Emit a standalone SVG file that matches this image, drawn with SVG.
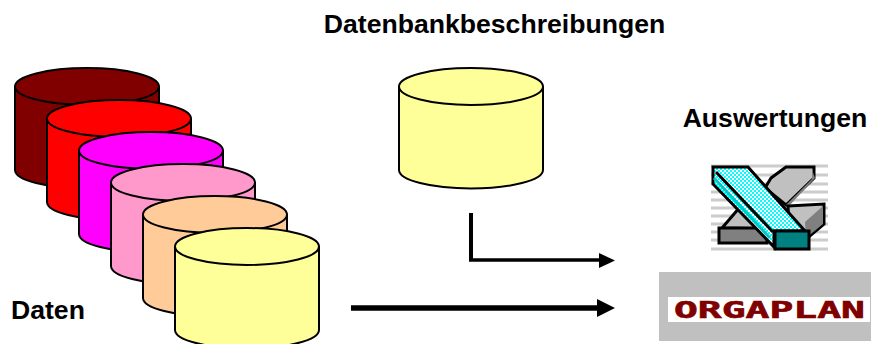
<svg xmlns="http://www.w3.org/2000/svg" width="871" height="344" viewBox="0 0 871 344">
<style>
.t{font-family:"Liberation Sans",Arial,sans-serif;font-weight:bold;font-size:26.600px;fill:#000}
.b{stroke:#000;stroke-width:2}
.o{stroke:#000;stroke-width:3;stroke-linejoin:miter}
</style>
<defs>
<path id="cyl" d="M0 18.500V102A72 18.500 0 0 0 144 102V18.500A72 18.500 0 0 0 0 18.500Z"/>
<path id="rim" d="M0 18.500A72 18.500 0 0 0 144 18.500"/>
<pattern id="chk" width="4" height="4" patternUnits="userSpaceOnUse"><rect width="4" height="4" fill="#fff"/><rect width="2" height="2" fill="#00ffff"/><rect x="2" y="2" width="2" height="2" fill="#00ffff"/></pattern>
</defs>
<rect width="871" height="344" fill="#fff"/>
<text class="t" x="494.500" y="33" text-anchor="middle">Datenbankbeschreibungen</text>
<text class="t" x="775" y="127" text-anchor="middle">Auswertungen</text>
<text class="t" x="11" y="319">Daten</text>
<g id="db1" transform="translate(15 68)"><use href="#cyl" class="b" fill="#800000"/><use href="#rim" class="b" fill="none"/></g>
<g id="db2" transform="translate(47 100)"><use href="#cyl" class="b" fill="#f00"/><use href="#rim" class="b" fill="none"/></g>
<g id="db3" transform="translate(79 132)"><use href="#cyl" class="b" fill="#f0f"/><use href="#rim" class="b" fill="none"/></g>
<g id="db4" transform="translate(111 164)"><use href="#cyl" class="b" fill="#f9c"/><use href="#rim" class="b" fill="none"/></g>
<g id="db5" transform="translate(143 196)"><use href="#cyl" class="b" fill="#fc9"/><use href="#rim" class="b" fill="none"/></g>
<g id="db6" transform="translate(175 228)"><use href="#cyl" class="b" fill="#ff9"/><use href="#rim" class="b" fill="none"/></g>
<g id="db7" transform="translate(399 68)"><use href="#cyl" class="b" fill="#ff9"/><use href="#rim" class="b" fill="none"/></g>
<g id="connectors">
<path d="M471 213V260" fill="none" stroke="#000" stroke-width="4"/>
<path d="M469 260H600" fill="none" stroke="#000" stroke-width="3.500"/>
<path d="M599 253L615 260.500L599 268Z"/>
<path d="M351 308H600" fill="none" stroke="#000" stroke-width="5.500"/>
<path d="M597 299L615 308L597 317Z"/>
</g>
<g id="excel">
<path d="M711 166H828M711 175H828M711 184H828M711 192H828M711 200H828M711 208H828M711 216H828M711 224H828M711 232H828M711 240H828M711 249H828" stroke="#ccc" stroke-width="3"/>
<path d="M771 178L786 167H814V178L786 205L765 188Z" class="o" fill="#c0c0c0"/>
<path d="M786 205L812 179V170L815 178L789 206Z" fill="#808080"/>
<path d="M788 206L824 204V224L805 240H790Z" class="o" fill="#c0c0c0"/>
<path d="M805 222L823 206V224L806 238Z" fill="#808080"/>
<path d="M722 228L740 207L770 229Z" class="o" fill="#c0c0c0"/>
<rect x="719" y="228" width="48" height="15" class="o" fill="#808080"/>
<path d="M713 167H748L805 231H774V247L713 184Z" class="o" fill="url(#chk)"/>
<path d="M716 172L773 232" stroke="#000" stroke-width="3" fill="none"/>
<path d="M714 178L770 238" stroke="#00c8c8" stroke-width="3" fill="none"/>
<rect x="775" y="231" width="34" height="18" class="o" fill="#008080"/>
</g>
<g id="orgaplan">
<rect x="659" y="272" width="212" height="69" fill="#c0c0c0"/>
<rect x="668" y="297" width="202" height="25" fill="#fff"/>
<text x="674" y="318" font-family="'DejaVu Sans Mono',monospace" font-weight="bold" font-size="23" fill="#800000" stroke="#800000" stroke-width="0.600" textLength="191" lengthAdjust="spacingAndGlyphs">ORGAPLAN</text>
</g>
</svg>
